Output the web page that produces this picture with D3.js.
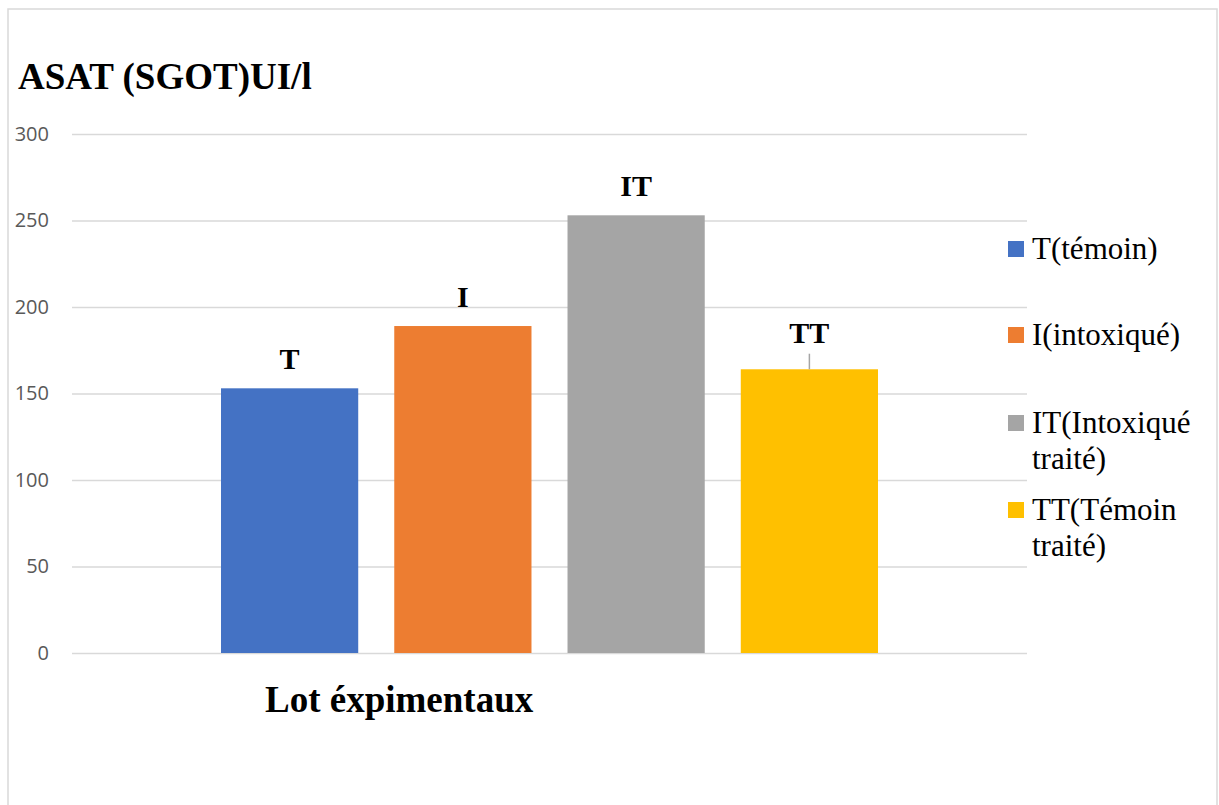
<!DOCTYPE html>
<html>
<head>
<meta charset="utf-8">
<script src="https://cdn.jsdelivr.net/npm/d3@7"></script>
<style>
  html, body { margin: 0; padding: 0; background: #fff; }
  svg { display: block; }
</style>
</head>
<body>
<svg id="chart" width="1219" height="805"></svg>
<script>
// Data: ASAT (SGOT) per experimental group
const groups = ["T", "I", "IT", "TT"];
const legendLabels = [["T(témoin)"], ["I(intoxiqué)"], ["IT(Intoxiqué", "traité)"], ["TT(Témoin", "traité)"]];
const values = [153, 189, 253, 164];
const errors = [0, 0, 0, 9];
const colors = ["#4472C4", "#ED7D31", "#A5A5A5", "#FFC000"];
const yTicks = [0, 50, 100, 150, 200, 250, 300];

const svg = d3.select("#chart");
const serif = "'Liberation Serif', 'Times New Roman', serif";
const sans = "'Open Sans', 'Liberation Sans', sans-serif";

// Outer frame
svg.append("rect")
  .attr("x", 8).attr("y", 9)
  .attr("width", 1209).attr("height", 820)
  .attr("fill", "#fff")
  .attr("stroke", "#d9d9d9").attr("stroke-width", 1.5);

const plot = { left: 72, right: 1027, top: 134, bottom: 653 };

const y = d3.scaleLinear().domain([0, 300]).range([plot.bottom, plot.top]);

// One category holding four series: clustered bars centred in the plot
const clusterGap = 149;
const x = d3.scaleBand()
  .domain(groups)
  .range([plot.left + clusterGap, plot.right - clusterGap])
  .paddingInner(0.208)
  .paddingOuter(0);

// Gridlines and value labels
const yAxis = d3.axisLeft(y).tickValues(yTicks)
  .tickSize(-(plot.right - plot.left))
  .tickPadding(23);
const gAxis = svg.append("g")
  .attr("transform", `translate(${plot.left},0)`)
  .call(yAxis);
gAxis.select(".domain").remove();
gAxis.selectAll(".tick line").attr("stroke", "#d9d9d9").attr("stroke-width", 1.5);
gAxis.selectAll(".tick text")
  .attr("fill", "#595959")
  .style("font-family", sans)
  .style("font-size", "20px");

// Bars
svg.append("g").selectAll("rect")
  .data(groups)
  .join("rect")
  .attr("x", d => x(d))
  .attr("y", (d, i) => y(values[i]))
  .attr("width", x.bandwidth())
  .attr("height", (d, i) => y(0) - y(values[i]))
  .attr("fill", (d, i) => colors[i]);

// Error bars (upper half only)
svg.append("g").selectAll("line")
  .data(groups.filter((d, i) => errors[i] > 0))
  .join("line")
  .attr("x1", d => x(d) + x.bandwidth() / 2)
  .attr("x2", d => x(d) + x.bandwidth() / 2)
  .attr("y1", d => y(values[groups.indexOf(d)]))
  .attr("y2", d => { const i = groups.indexOf(d); return y(values[i] + errors[i]); })
  .attr("stroke", "#a5a5a5")
  .attr("stroke-width", 1.5);

// Group labels above bars
svg.append("g").selectAll("text")
  .data(groups)
  .join("text")
  .attr("x", d => x(d) + x.bandwidth() / 2)
  .attr("y", (d, i) => errors[i] > 0 ? y(values[i] + errors[i]) - 11 : y(values[i]) - 19)
  .attr("text-anchor", "middle")
  .style("font-family", serif)
  .style("font-weight", "bold")
  .style("font-size", "30px")
  .text(d => d);

// Title
svg.append("text")
  .attr("x", 18).attr("y", 89)
  .style("font-family", serif)
  .style("font-weight", "bold")
  .style("font-size", "37px")
  .text("ASAT (SGOT)UI/l");

// Axis title
svg.append("text")
  .attr("x", 265).attr("y", 712)
  .style("font-family", serif)
  .style("font-weight", "bold")
  .style("font-size", "37px")
  .text("Lot éxpimentaux");

// Legend
const legendY = [249, 335, 423, 510];
const legend = svg.append("g");
legendLabels.forEach((lines, i) => {
  legend.append("rect")
    .attr("x", 1008).attr("y", legendY[i] - 8)
    .attr("width", 16).attr("height", 16)
    .attr("fill", colors[i]);
  const t = legend.append("text")
    .attr("x", 1032).attr("y", legendY[i] + 10)
    .style("font-family", serif)
    .style("font-size", "31px")
    .attr("fill", "#000");
  lines.forEach((ln, j) => {
    t.append("tspan")
      .attr("x", 1032)
      .attr("dy", j === 0 ? 0 : 36)
      .text(ln);
  });
});
</script>
</body>
</html>
